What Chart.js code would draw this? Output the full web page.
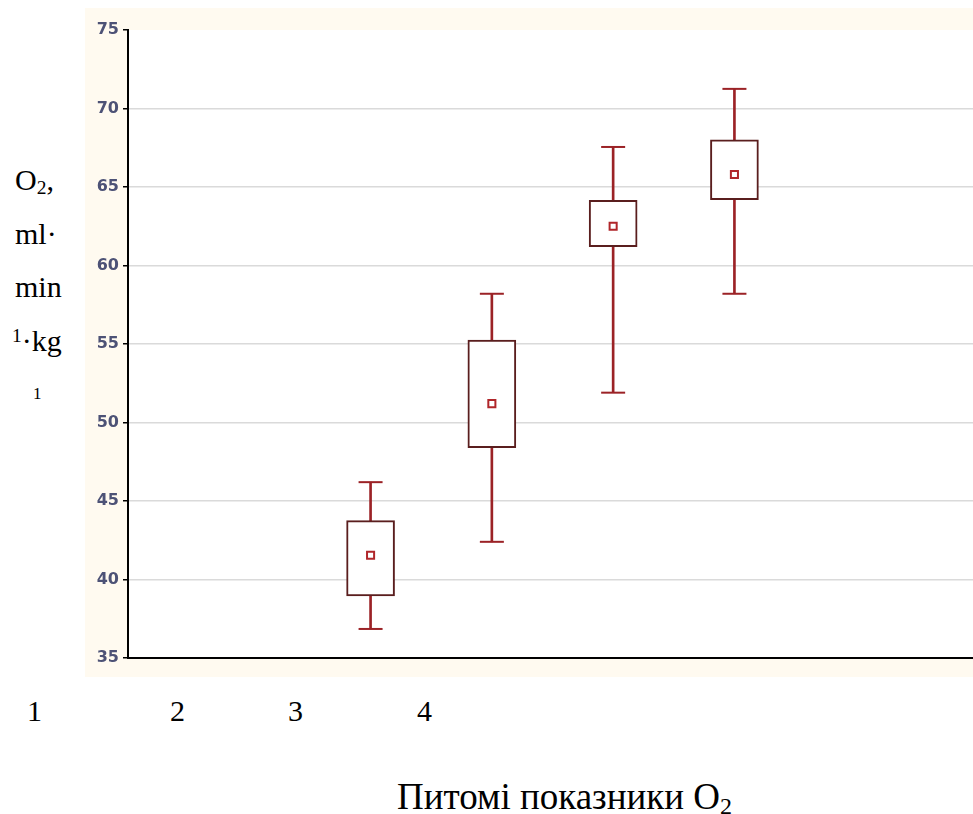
<!DOCTYPE html>
<html>
<head>
<meta charset="utf-8">
<script src="https://cdn.jsdelivr.net/npm/chart.js@4"></script>
<style>
  body { margin: 0; width: 973px; height: 814px; background: #fff; position: relative; overflow: hidden; font-family: "Liberation Serif", "Times New Roman", serif; color: #000; }
  #frame { position: absolute; left: 85px; top: 8px; width: 888px; height: 669px; background: #fffaf0; overflow: hidden; }
  #wrap { position: absolute; left: 0; top: 0; width: 906px; height: 669px; }
  .t { position: absolute; white-space: nowrap; font-size: 30px; line-height: 30px; }
  .n { position: absolute; font-size: 30px; line-height: 30px; }
  sub { font-size: 65%; vertical-align: -0.2em; line-height: 0; }
  sup { font-size: 65%; vertical-align: 0.45em; line-height: 0; }
</style>
</head>
<body>
<div id="frame"><div id="wrap"><canvas id="chart"></canvas></div></div>

<div class="t" style="left:15px; top:165px">O<sub>2</sub>,</div>
<div class="t" style="left:15px; top:219px">ml·</div>
<div class="t" style="left:15px; top:272px">min</div>
<div class="t" style="left:12px; top:326px"><sup>1</sup>·kg</div>
<div class="t" style="left:33px; top:385px; font-size:17px; line-height:17px">1</div>

<div class="n" style="left:27px; top:696px">1</div>
<div class="n" style="left:170px; top:696px">2</div>
<div class="n" style="left:288px; top:696px">3</div>
<div class="n" style="left:417px; top:696px">4</div>

<div class="t" style="left:397px; top:778px; font-size:37px; line-height:37px">Питомі показники O<sub>2</sub></div>

<script>
// positions of the four groups on the x axis
const groupPos = [2, 3, 4, 5];
const whiskerLow = [36.85, 42.4, 51.9, 58.2];
const boxLow = [38.95, 48.4, 61.2, 64.2];
const meanVal = [41.55, 51.2, 62.5, 65.8];
const boxHigh = [43.75, 55.25, 64.15, 68.0];
const whiskerHigh = [46.2, 58.2, 67.55, 71.25];

const whiskerColor = "#9b2226";
const boxColor = "#5a1e1e";

const plotBg = {
  id: "plotBg",
  beforeDraw(chart) {
    const { ctx, chartArea: a } = chart;
    ctx.save();
    ctx.fillStyle = "#fff";
    ctx.fillRect(a.left, a.top, a.right - a.left, a.bottom - a.top);
    ctx.restore();
  },
};

new Chart(document.querySelector("#chart"), {
  type: "bar",
  data: {
    datasets: [
      {
        type: "scatter",
        data: groupPos.map((x, i) => ({ x, y: meanVal[i] })),
        pointStyle: "rect",
        radius: 5,
        borderWidth: 2,
        borderColor: "#b0262a",
        backgroundColor: "#fff",
        order: 0,
      },
      {
        type: "scatter",
        data: groupPos
          .map((x, i) => ({ x, y: whiskerHigh[i] }))
          .concat(groupPos.map((x, i) => ({ x, y: whiskerLow[i] }))),
        pointStyle: "line",
        radius: 12,
        borderWidth: 2,
        borderColor: whiskerColor,
        order: 0,
      },
      {
        data: groupPos.map((x, i) => ({ x, y: [boxLow[i], boxHigh[i]] })),
        backgroundColor: "#fff",
        borderColor: boxColor,
        borderWidth: 2,
        borderSkipped: false,
        barThickness: 48,
        grouped: false,
        order: 1,
      },
      {
        data: groupPos.map((x, i) => ({ x, y: [whiskerLow[i], whiskerHigh[i]] })),
        backgroundColor: whiskerColor,
        borderWidth: 0,
        barThickness: 2,
        grouped: false,
        order: 2,
      },
    ],
  },
  options: {
    responsive: true,
    maintainAspectRatio: false,
    animation: false,
    layout: { padding: { top: 22, bottom: 19, left: 0, right: 0 } },
    plugins: { legend: { display: false }, tooltip: { enabled: false } },
    scales: {
      x: {
        type: "linear",
        min: 0,
        max: 7,
        offset: false,
        ticks: { display: false },
        grid: { display: false, drawTicks: false },
        border: { display: true, color: "#000", width: 2 },
      },
      y: {
        min: 35,
        max: 75,
        ticks: {
          stepSize: 5,
          padding: 4,
          color: "#4d5276",
          font: { family: "DejaVu Sans", size: 16, weight: "bold" },
        },
        grid: {
          color: (c) => (c.tick && c.tick.value === 75 ? "rgba(0,0,0,0)" : "#dadada"),
          lineWidth: 1.5,
          tickColor: "#000",
          tickLength: 5,
        },
        border: { display: true, color: "#000", width: 2 },
        afterFit(scale) {
          scale.width = 43;
        },
      },
    },
  },
  plugins: [plotBg],
});
</script>
</body>
</html>
